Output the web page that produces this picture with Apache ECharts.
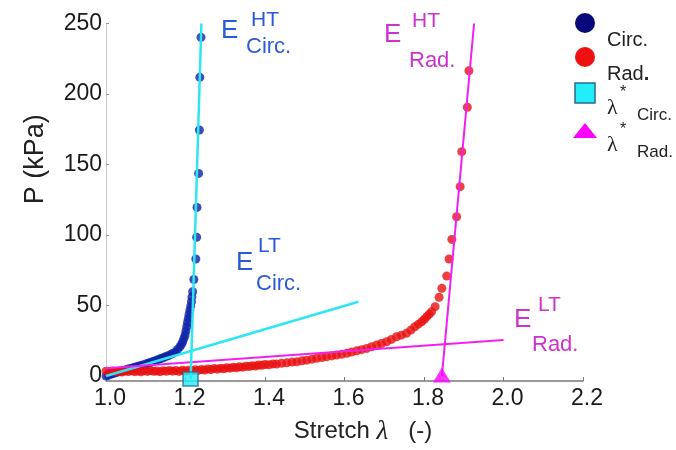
<!DOCTYPE html>
<html><head><meta charset="utf-8">
<script src="https://cdn.jsdelivr.net/npm/echarts@6/dist/echarts.min.js"></script>
<style>html,body{margin:0;padding:0;background:#fff}#c{width:676px;height:450px}</style>
</head><body><div id="c"></div>
<script>
// Circumferential data (stretch, pressure kPa)
const circLambda = [1.000,1.006,1.012,1.018,1.024,1.030,1.035,1.041,1.047,1.052,1.058,1.064,1.070,1.075,1.081,1.086,1.092,1.100,1.106,1.111,1.118,1.124,1.130,1.136,1.142,1.148,1.154,1.161,1.167,1.174,1.180,1.186,1.190,1.193,1.196,1.199,1.201,1.203,1.205,1.207,1.209,1.211,1.213,1.215,1.216,1.218,1.221,1.226,1.228,1.229,1.233,1.235,1.236,1.239];
const circP      = [0.0,0.6,1.2,1.8,2.3,2.8,3.2,3.7,4.2,4.6,5.1,5.5,6.0,6.5,7.0,7.4,7.9,8.6,9.1,9.6,10.3,10.9,11.5,12.2,12.8,13.6,14.2,15.0,16.0,17.0,18.8,20.8,22.5,24.3,26.7,29.1,32.0,35.0,38.0,40.9,43.8,46.8,49.6,52.7,56.0,59.8,68.5,83.0,98.4,119.6,143.7,174.5,211.8,240.2];
// Radial data
const radLambda = [1.000,1.008,1.016,1.024,1.032,1.040,1.048,1.056,1.064,1.072,1.080,1.088,1.096,1.104,1.112,1.120,1.128,1.136,1.144,1.152,1.160,1.168,1.176,1.184,1.192,1.200,1.208,1.216,1.224,1.232,1.240,1.248,1.256,1.264,1.272,1.280,1.288,1.296,1.304,1.312,1.320,1.328,1.336,1.344,1.352,1.360,1.368,1.376,1.384,1.392,1.400,1.410,1.420,1.429,1.442,1.455,1.468,1.480,1.493,1.505,1.518,1.530,1.543,1.555,1.568,1.580,1.593,1.606,1.618,1.631,1.643,1.656,1.668,1.681,1.693,1.706,1.718,1.731,1.743,1.756,1.767,1.777,1.786,1.794,1.801,1.807,1.813,1.819,1.828,1.838,1.845,1.857,1.863,1.870,1.882,1.891,1.895,1.909,1.913];
const radP      = [3.4,3.0,3.6,3.1,3.5,2.9,3.6,3.2,3.8,3.1,3.5,3.0,3.7,3.3,3.9,3.4,3.6,3.1,3.8,3.4,4.0,3.5,3.9,3.3,4.1,3.6,4.2,3.8,4.5,4.0,4.7,4.3,5.0,4.6,5.3,4.9,5.6,5.2,5.9,5.6,6.3,5.9,6.6,6.3,7.0,6.7,7.4,7.1,7.8,7.6,8.2,8.0,8.6,8.5,9.1,9.4,9.9,10.1,10.8,11.3,12.0,12.6,13.1,13.7,14.3,14.9,15.4,16.1,17.0,17.9,18.7,19.6,20.8,22.0,23.1,24.3,26.0,27.9,29.0,30.3,32.6,35.0,36.8,38.5,40.3,42.1,43.8,45.6,49.2,55.8,62.2,70.9,83.0,96.9,113.0,134.3,159.1,190.6,216.5];
// Fitted moduli lines (end points)
const circHTLine = [[1.213,-2],[1.240,250]];
const circLTLine = [[1.0,0],[1.635,52.7]];
const radHTLine  = [[1.845,0],[1.926,250]];
const radLTLine  = [[1.0,5.5],[2.0,25.5]];
// Transition stretches
const lambdaStarCirc = [[1.2126,-2.1]];
const lambdaStarRad  = [[1.845,0.7]];
// Tick labels
const xTicks = [1.0,1.2,1.4,1.6,1.8,2.0,2.2];
const yTicks = [0,50,100,150,200,250];

const zip = (a,b) => a.map((v,i)=>[v,b[i]]);
const SANS = '"Liberation Sans", Arial, sans-serif';
const BLUE_T = '#2a5bd7', MAG_T = '#cc33cc';
const CYAN = '#2ee6f2', MAG = '#f020f0';

const chart = echarts.init(document.getElementById('c'), null, {renderer:'canvas'});

function txt(x,y,text,size,color,family){
  return {type:'text', x:x, y:y, z:100, style:{text:text, fill:color, font: size+'px '+(family||SANS), textAlign:'left', textVerticalAlign:'middle'}};
}

const graphics = [
  // legend
  {type:'circle', shape:{cx:585, cy:23, r:10}, style:{fill:'#08087a'}},
  txt(607,40,'Circ.',20,'#222'),
  {type:'circle', shape:{cx:585, cy:57, r:10}, style:{fill:'#ee1111'}},
  {type:'text', x:607, y:74, style:{rich:{a:{fontSize:20,fontFamily:SANS,fill:'#222'}, b:{fontSize:20,fontFamily:SANS,fontWeight:'bold',fill:'#222'}}, text:'{a|Rad}{b|.}', textAlign:'left', textVerticalAlign:'middle'}},
  {type:'rect', shape:{x:575, y:83, width:20, height:20}, style:{fill:'#22eefa', stroke:'#2b6a8a', lineWidth:1.5}},
  txt(607,108,'λ',22,'#222','"Liberation Serif", serif'),
  txt(620,93,'*',16,'#222'),
  txt(637,115,'Circ.',17,'#222'),
  {type:'polygon', shape:{points:[[573,138],[597,138],[585,123]]}, style:{fill:'#ff00ff'}},
  txt(607,145,'λ',22,'#222','"Liberation Serif", serif'),
  txt(620,130,'*',16,'#222'),
  txt(637,152,'Rad.',17,'#222'),
  // annotations
  txt(221,31,'E',26,BLUE_T), txt(251,20,'HT',21,BLUE_T), txt(246,47,'Circ.',22,BLUE_T),
  txt(236,263,'E',26,BLUE_T), txt(258,246,'LT',21,BLUE_T), txt(256,284,'Circ.',22,BLUE_T),
  txt(384,35,'E',26,MAG_T), txt(412,21,'HT',21,MAG_T), txt(409,61,'Rad.',22,MAG_T),
  txt(514,320,'E',26,MAG_T), txt(538,305,'LT',21,MAG_T), txt(532,345,'Rad.',22,MAG_T)
];

const lineSeries = (data,color,w) => ({type:'line', data:data, symbol:'none', silent:true, z:5, lineStyle:{color:color, width:w}, animation:false});

chart.setOption({
  animation:false,
  backgroundColor:'#fff',
  grid:{left:106, right:93, top:23.5, bottom:69, containLabel:false},
  xAxis:{
    type:'value', min:1.0, max:2.2, interval:0.2,
    name:'Stretch {i|λ}   (-)', nameLocation:'middle', nameGap:37,
    nameTextStyle:{fontSize:24, fontFamily:SANS, color:'#222', padding:[0,0,0,37],
      rich:{i:{fontSize:27, fontFamily:'"Liberation Serif", serif', fontStyle:'italic', color:'#222'}}},
    axisLine:{onZero:false, lineStyle:{color:'#7a7a7a', width:1.5}},
    axisTick:{inside:true, length:4, lineStyle:{color:'#7a7a7a'}},
    axisLabel:{fontSize:23, fontFamily:SANS, color:'#1a1a1a', margin:6, padding:[0,0,0,8],
      customValues:xTicks, formatter:v=>Number(v).toFixed(1)},
    splitLine:{show:false}
  },
  yAxis:{
    type:'value', min:-3.5, max:250,
    name:'P (kPa)', nameLocation:'middle', nameRotate:90, nameGap:57,
    nameTextStyle:{fontSize:27, fontFamily:SANS, color:'#222', padding:[0,0,0,86]},
    axisLine:{onZero:false, lineStyle:{color:'#c8c8c8', width:1}},
    axisTick:{inside:true, length:3, lineStyle:{color:'#999'}, customValues:yTicks},
    axisLabel:{fontSize:23, fontFamily:SANS, color:'#1a1a1a', margin:4, customValues:yTicks},
    splitLine:{show:false}
  },
  series:[
    {name:'Circ.', type:'scatter', data:zip(circLambda,circP), symbol:'circle', symbolSize:9, z:2, itemStyle:{color:'#0d23a8'}},
    {name:'Rad.', type:'scatter', data:zip(radLambda,radP), symbol:'circle', symbolSize:9, z:3, itemStyle:{color:'#e81010'}},
    lineSeries(circLTLine, CYAN, 2.5),
    lineSeries(radLTLine, MAG, 2),
    lineSeries(circHTLine, CYAN, 2.5),
    lineSeries(radHTLine, MAG, 2),
    {name:'λ*Circ.', type:'scatter', data:lambdaStarCirc, symbol:'rect', symbolSize:[15,14], z:10, itemStyle:{color:'#22eefa', borderColor:'#2b6a8a', borderWidth:1.5}},
    {name:'λ*Rad.', type:'scatter', data:lambdaStarRad, symbol:'triangle', symbolSize:[18,15], z:10, itemStyle:{color:'#ff00ff'}}
  ],
  graphic:graphics
});
</script>
</body></html>
